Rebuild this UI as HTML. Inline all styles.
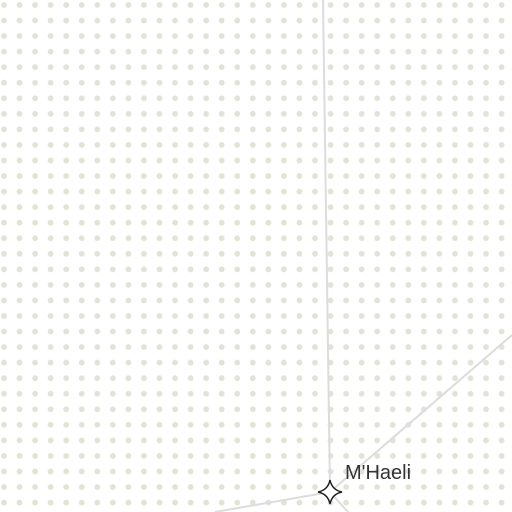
<!DOCTYPE html>
<html><head><style>
html,body{margin:0;padding:0;background:#fff;}
svg{display:block;}
</style></head><body>
<svg width="512" height="512" viewBox="0 0 512 512" xmlns="http://www.w3.org/2000/svg">
<defs>
<pattern id="dots" x="-3.8" y="-2.8" width="15.55" height="15.55" patternUnits="userSpaceOnUse">
<circle cx="7.8" cy="7.8" r="2.9" fill="#e0e4d8"/>
</pattern>
</defs>
<rect width="512" height="512" fill="url(#dots)"/>
<g stroke="#dcdcdc" stroke-width="2" fill="none">
<line x1="323" y1="0" x2="330" y2="490"/>
<line x1="330" y1="492" x2="512" y2="335"/>
<line x1="330" y1="492" x2="215" y2="512"/>
<line x1="330" y1="492" x2="348" y2="512"/>
</g>
<path d="M330,480 Q332,490 342,492 Q332,494 330,504 Q328,494 318,492 Q328,490 330,480 Z" fill="#fff" stroke="#222" stroke-width="1.5"/>
<text x="345" y="479" font-family="Liberation Sans, sans-serif" font-size="20" fill="#333">M'Haeli</text>
</svg>
</body></html>
